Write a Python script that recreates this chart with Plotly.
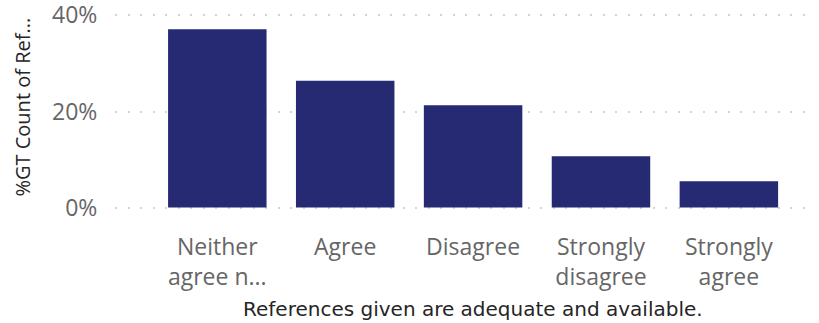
import plotly.graph_objects as go

categories = ["Neither<br>agree n...", "Agree", "Disagree", "Strongly<br>disagree", "Strongly<br>agree"]
values = [0.371, 0.264, 0.213, 0.107, 0.055]
y_ticks = [0, 0.2, 0.4]
y_tick_labels = ["0%", "20%", "40%"]
x_title = "References given are adequate and available."
y_title = "%GT Count of Ref..."

W, H = 819, 323
PAD = 0.005
L, R, T, B = 115, 7, 12.6, 112.6

fig = go.Figure(go.Bar(
    x=list(range(len(categories))), y=values,
    marker_color="#262A73", marker_line_width=0, width=0.77,
    hoverinfo="skip",
))

fig.update_layout(
    width=W, height=H,
    margin=dict(l=L, r=R, t=T, b=B, pad=0, autoexpand=False),
    paper_bgcolor="white", plot_bgcolor="white",
    showlegend=False,
    font=dict(family="Open Sans, Noto Sans, sans-serif", color="#666666"),
)
fig.update_xaxes(
    range=[-0.8, 4.65], tickmode="array",
    tickvals=list(range(len(categories))), ticktext=categories,
    tickfont=dict(size=23, color="#666666"),
    showgrid=False, zeroline=False, showline=False, automargin=False,
    ticks="outside", ticklen=16, tickcolor="rgba(0,0,0,0)",
    ticklabeloverflow="allow",
)
fig.update_yaxes(
    range=[-PAD, 0.4 + PAD], tickmode="array", tickvals=y_ticks, ticktext=y_tick_labels,
    tickfont=dict(size=23, color="#666666"),
    showgrid=True, gridcolor="#d4d4d4", gridwidth=2, griddash="2px,10.5px",
    zeroline=False, showline=False, automargin=False,
    ticks="outside", ticklen=12, tickcolor="rgba(0,0,0,0)",
    ticklabeloverflow="allow",
)
plot_h = H - T - B
fig.add_annotation(
    text=x_title, xref="x", x=2, yref="paper", y=(H - B - 310) / plot_h,
    xanchor="center", yanchor="middle", showarrow=False,
    font=dict(family="DejaVu Sans, sans-serif", size=20, color="#252525"),
)
fig.add_annotation(
    text=y_title, xref="paper", x=(23 - L) / (W - L - R), yref="paper", y=0.52,
    xanchor="center", yanchor="middle", showarrow=False, textangle=-90,
    font=dict(family="Open Sans, sans-serif", size=20, color="#252525"),
)

fig.write_html("out.html", config={"displayModeBar": False},
               post_script="document.body.style.margin='0';")
